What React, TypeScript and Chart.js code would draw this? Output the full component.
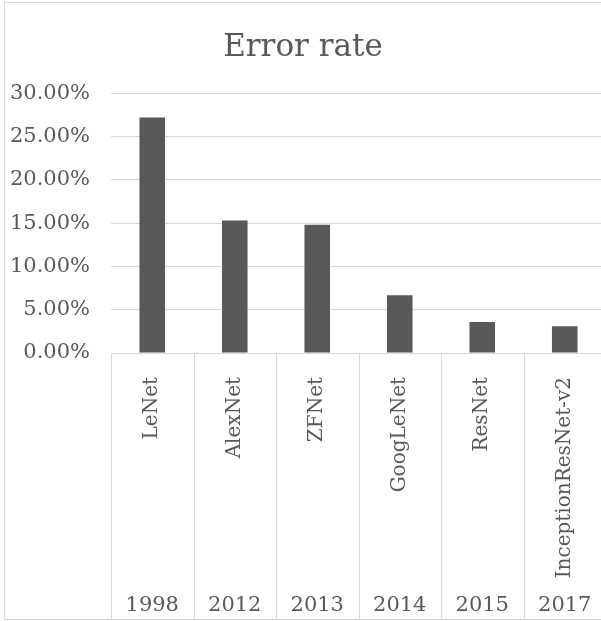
import React, { useEffect, useRef } from "react";
import { Chart, registerables } from "chart.js";

Chart.register(...registerables);

const categories = ["LeNet", "AlexNet", "ZFNet", "GoogLeNet", "ResNet", "InceptionResNet-v2"];
const years = ["1998", "2012", "2013", "2014", "2015", "2017"];
const errorRates = [0.272, 0.153, 0.148, 0.0667, 0.0357, 0.0308];
const yMin = 0;
const yMax = 0.3;
const yStep = 0.05;

const FONT = "'DejaVu Serif', serif";
const TEXT = "#595959";
const LINE = "#d9d9d9";
const CW = 612;
const CH = 621;

const framePlugin = {
  id: "frameAndSeparators",
  afterDraw(chart: any) {
    const ctx = chart.ctx;
    const xs = chart.scales.x;
    const yr = chart.scales.x2;
    const n = categories.length;
    ctx.save();
    ctx.strokeStyle = LINE;
    ctx.lineWidth = 1;
    const bounds: number[] = [xs.left];
    for (let i = 1; i < n; i++) {
      bounds.push((xs.getPixelForValue(i - 1) + xs.getPixelForValue(i)) / 2);
    }
    bounds.push(xs.right);
    for (const b of bounds) {
      const x = Math.round(b) + 0.5;
      ctx.beginPath();
      ctx.moveTo(x, xs.top);
      ctx.lineTo(x, yr.bottom);
      ctx.stroke();
    }
    ctx.strokeRect(4.5, 2.5, chart.width + 10, yr.bottom - 2.5 + 0.5);
    ctx.restore();
  },
};

export default function App() {
  const ref = useRef<HTMLCanvasElement | null>(null);
  useEffect(() => {
    if (!ref.current) return;
    const chart = new Chart(ref.current, {
      type: "bar",
      data: {
        labels: categories,
        datasets: [
          {
            label: "Error rate",
            data: errorRates,
            backgroundColor: "#595959",
            barPercentage: 0.31,
            categoryPercentage: 1,
          },
        ],
      },
      options: {
        responsive: false,
        devicePixelRatio: 1,
        animation: false,
        layout: { padding: { left: 0, right: 6, top: 0, bottom: 2 } },
        plugins: {
          legend: { display: false },
          tooltip: { enabled: false },
          title: {
            display: true,
            text: "Error rate",
            color: TEXT,
            font: { family: FONT, size: 31, weight: "normal" },
            padding: { top: 29, bottom: 27 },
          },
        },
        scales: {
          y: {
            min: yMin,
            max: yMax,
            ticks: {
              stepSize: yStep,
              color: TEXT,
              font: { family: FONT, size: 21 },
              padding: 21,
              callback: (v: any) => (Number(v) * 100).toFixed(2) + "%",
            },
            grid: { color: LINE, drawTicks: false, lineWidth: 1 },
            border: { display: false },
            afterFit: (s: any) => {
              s.width = 111;
            },
          },
          x: {
            type: "category",
            grid: { display: false },
            border: { display: true, color: LINE },
            ticks: {
              minRotation: 90,
              maxRotation: 90,
              autoSkip: false,
              padding: 16,
              color: TEXT,
              font: { family: FONT, size: 20 },
            },
            afterFit: (s: any) => {
              s.height = 230;
            },
          },
          x2: {
            type: "category",
            labels: years,
            position: "bottom",
            weight: 1,
            offset: true,
            grid: { display: false },
            border: { display: false },
            ticks: {
              autoSkip: false,
              maxRotation: 0,
              minRotation: 0,
              padding: 2,
              color: TEXT,
              font: { family: FONT, size: 21 },
            },
            afterFit: (s: any) => {
              s.height = 36;
            },
          },
        },
      } as any,
      plugins: [framePlugin],
    });
    return () => chart.destroy();
  }, []);

  return (
    <div
      style={{
        position: "fixed",
        left: 0,
        top: 0,
        width: 601,
        height: 621,
        overflow: "hidden",
        background: "#ffffff",
      }}
    >
      <canvas ref={ref} width={CW} height={CH} style={{ display: "block", width: CW, height: CH }} />
    </div>
  );
}
